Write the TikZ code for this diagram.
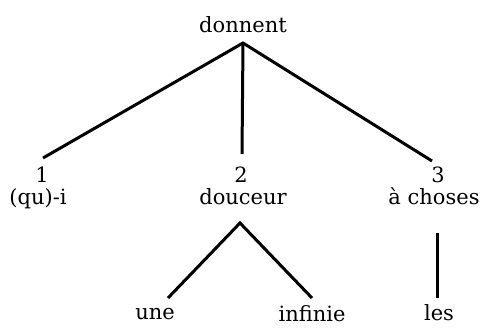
\documentclass[tikz,border=0pt]{standalone}
\usepackage{fontspec}
\setmainfont{DejaVu Serif}
\begin{document}
\begin{tikzpicture}[x=1pt, y=-1pt,
  word/.style={anchor=base, inner sep=0pt, font=\fontsize{21}{24}\selectfont},
  edge/.style={line width=3pt}]
\useasboundingbox (0,0) rectangle (482,327);

% labels
\node[word] (root)  at (243,32)  {donnent};
\node[word] (n1)    at (42,182)  {1};
\node[word] (w1)    at (38,204)  {(qu)-i};
\node[word] (n2)    at (241,182) {2};
\node[word] (w2)    at (243,204) {douceur};
\node[word] (n3)    at (438,182) {3};
\node[word] (w3)    at (434,204) {à choses};
\node[word] (une)   at (155,319) {une};
\node[word] (inf)   at (312,321) {infinie};
\node[word] (les)   at (439,320) {les};

% branching points and branch ends
\coordinate (top)  at (243,43);
\coordinate (e1)   at (43,158);
\coordinate (e2)   at (242,154);
\coordinate (e3)   at (432,161);
\coordinate (mid)  at (240,223);
\coordinate (eune) at (168,298);
\coordinate (einf) at (312,298);
\coordinate (lest) at (437,233);
\coordinate (lesb) at (437,298);

% branches
\draw[edge] (e1) -- (top) -- (e3);
\draw[edge] (top) -- (e2);
\draw[edge] (eune) -- (mid) -- (einf);
\draw[edge] (lest) -- (lesb);
\end{tikzpicture}
\end{document}
